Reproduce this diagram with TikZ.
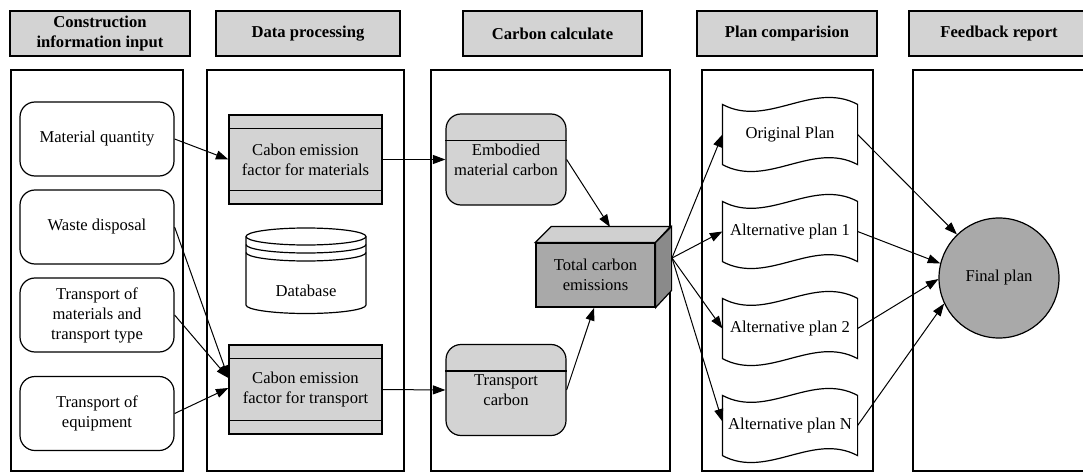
\documentclass[tikz,border=0pt]{standalone}
\usepackage{fontspec}
\setmainfont{Liberation Serif}
\usetikzlibrary{arrows.meta}
\definecolor{lgray}{HTML}{D3D3D3}
\definecolor{dgray}{HTML}{A9A9A9}
\definecolor{sgray}{HTML}{8A8A8A}
\definecolor{tgray}{HTML}{D0D0D0}

% wavy outline of a "tape" node
\newcommand\tapeoutline[1]{%
  \draw (#1.north west) .. controls +(45,24) and +(-45,-24) .. (#1.north east)
        -- (#1.south east) .. controls +(-45,-24) and +(45,24) .. (#1.south west) -- cycle;}

\begin{document}
\begin{tikzpicture}[x=1pt,y=-1pt,
  line width=1.2pt,
  txt/.style={font=\fontsize{16.6}{20}\selectfont},
  every node/.style={txt, align=center, inner sep=0pt},
  hdr/.style={draw, fill=lgray, minimum height=45pt, font=\fontsize{16.6}{20}\selectfont\bfseries},
  inbox/.style={draw, fill=white, rounded corners=15pt, minimum width=154pt, minimum height=74pt},
  factor/.style={draw, fill=lgray, minimum width=153pt, minimum height=89pt},
  store/.style={draw, fill=lgray, rounded corners=15pt, minimum width=120pt, minimum height=91pt},
  tapebox/.style={minimum width=134pt, minimum height=59pt},
  edge/.style={-{Triangle[length=12.5pt,width=9pt]}, line width=1pt}
]
\useasboundingbox (0,0) rectangle (1083,473);

% column headers
\node[hdr, minimum width=180pt] (h1) at (100,33.5) {Construction\\information input};
\node[hdr, minimum width=184pt] (h2) at (308,33.5) {Data processing};
\node[hdr, minimum width=179pt] (h3) at (552.5,33.5) {Carbon calculate};
\node[hdr, minimum width=180pt] (h4) at (787,33.5) {Plan comparision};
\node[hdr, minimum width=180pt] (h5) at (999,33.5) {Feedback report};

% column frames
\draw (11,70) rectangle (183,471);
\draw (207,70) rectangle (404,471);
\draw (431,70) rectangle (670,471);
\draw (702,70) rectangle (873,471);
\draw (913,70) rectangle (1092,471);

% inputs
\node[inbox] (mq) at (97,139) {Material quantity};
\node[inbox] (wd) at (97,227) {Waste disposal};
\node[inbox] (tm) at (97,315) {Transport of\\materials and\\transport type};
\node[inbox] (te) at (97,413.5) {Transport of\\equipment};

% emission factors
\node[factor] (cm) at (305.5,159.5) {Cabon emission\\factor for materials};
\draw ([yshift=-14pt]cm.north west) -- ([yshift=-14pt]cm.north east);
\draw ([yshift=14pt]cm.south west) -- ([yshift=14pt]cm.south east);
\node[factor] (ct) at (305.5,389.5) {Cabon emission\\factor for transport};
\draw ([yshift=-14pt]ct.north west) -- ([yshift=-14pt]ct.north east);
\draw ([yshift=14pt]ct.south west) -- ([yshift=14pt]ct.south east);

% database cylinder
\draw[fill=white] (246,236.5) -- (246,305)
  arc[start angle=180, end angle=360, x radius=60pt, y radius=8.5pt]
  -- (366,236.5)
  arc[start angle=0, end angle=180, x radius=60pt, y radius=8.5pt] -- cycle;
\draw (246,236.5) arc[start angle=180, end angle=360, x radius=60pt, y radius=8.5pt];
\draw (246,244.5) arc[start angle=180, end angle=360, x radius=60pt, y radius=8.5pt];
\draw (246,252.5) arc[start angle=180, end angle=360, x radius=60pt, y radius=8.5pt];
\node (db) at (306,291) {Database};

% carbon stores
\node[store] (em) at (506,159.5) {Embodied\\material carbon};
\draw ([yshift=-27pt]em.north west) -- ([yshift=-27pt]em.north east);
\node[store] (tc) at (506,390) {Transport\\carbon};
\draw ([yshift=-27pt]tc.north west) -- ([yshift=-27pt]tc.north east);

% total carbon box
\node[draw, fill=dgray, minimum width=119pt, minimum height=64pt] (tot) at (595.5,275) {Total carbon\\emissions};
\draw[fill=tgray] (tot.north west) -- ++(16,-16) -- ++(119,0) -- (tot.north east) -- cycle;
\draw[fill=sgray] (tot.north east) -- ++(16,-16) -- ++(0,64) -- (tot.south east) -- cycle;
\coordinate (tot-top) at (610,227);
\coordinate (tot-bot) at (594,308);
\coordinate (tot-out) at (672,258);

% plans
\node[tapebox] (op) at (790,134.5) {Original Plan};
\node[tapebox] (a1) at (790,231.5) {Alternative plan 1};
\node[tapebox] (a2) at (790,328.5) {Alternative plan 2};
\node[tapebox] (an) at (790,425.5) {Alternative plan N};
\tapeoutline{op}
\tapeoutline{a1}
\tapeoutline{a2}
\tapeoutline{an}

% result
\node[circle, draw, fill=dgray, minimum size=120pt] (fp) at (999,278) {Final plan};

% connectors
\draw[edge] (mq.east) -- (cm.west);
\draw[edge] (wd.east) -- ([yshift=11.5pt]ct.west);
\draw[edge] (tm.east) -- ([yshift=11.5pt]ct.west);
\draw[edge] (te.east) -- ([yshift=1.5pt]ct.west);
\draw[edge] (cm.east) -- (em.west);
\draw[edge] (ct.east) -- (tc.west);
\draw[edge] (em.east) -- (tot-top);
\draw[edge] (tc.east) -- (tot-bot);
\draw[edge] (tot-out) -- (op.west);
\draw[edge] (tot-out) -- (a1.west);
\draw[edge] (tot-out) -- (a2.west);
\draw[edge] (tot-out) -- ([yshift=4pt]an.west);
\draw[edge] (op.east) -- (fp.134);
\draw[edge] (a1.east) -- (fp.166);
\draw[edge] (a2.east) -- (fp.181);
\draw[edge] (an.east) -- (fp.205);
\end{tikzpicture}
\end{document}
